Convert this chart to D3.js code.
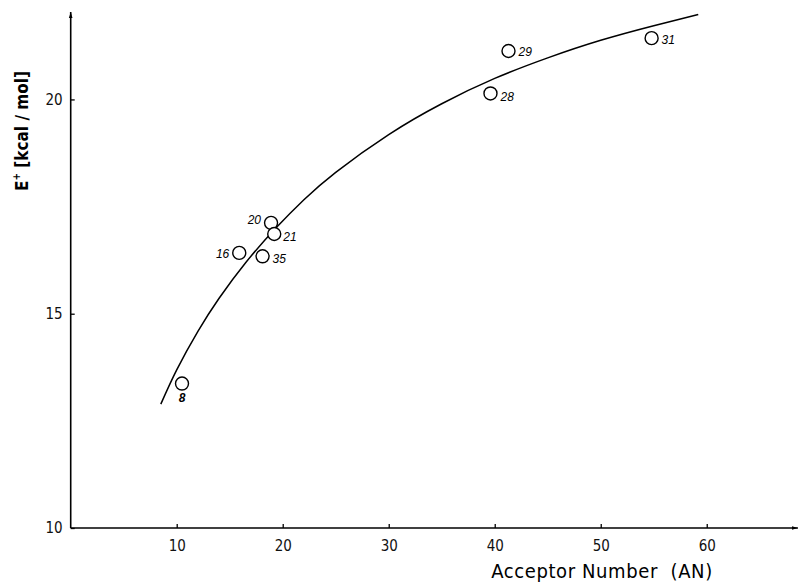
<!DOCTYPE html>
<html>
<head>
<meta charset="utf-8">
<script src="https://cdn.jsdelivr.net/npm/d3@7"></script>
<style>
  body { margin: 0; background: #fff; }
  svg { display: block; }
</style>
</head>
<body>
<div id="chart"></div>
<script>
// measured points (acceptor number vs activation energy)
const ids = ["8", "16", "20", "21", "35", "28", "29", "31"];
const an  = [10.5, 15.9, 18.9, 19.2, 18.1, 39.6, 41.3, 54.8];
const ea  = [13.37, 16.42, 17.12, 16.86, 16.34, 20.14, 21.13, 21.43];

// drawn curve
const curveAN = [8.5, 10, 12, 14, 16.5, 19.4, 22, 25, 30, 35, 40, 45, 50, 55, 59.2];
const curveE  = [12.89, 13.69, 14.59, 15.36, 16.19, 17.01, 17.66, 18.3, 19.18, 19.9, 20.49, 20.97, 21.38, 21.72, 21.98];

const xTicks = [10, 20, 30, 40, 50, 60];
const yTicks = [10, 15, 20];

const width = 801, height = 584;

const svg = d3.select("#chart")
    .append("svg")
    .attr("width", width)
    .attr("height", height);

const x = d3.scaleLinear()
    .domain([0, 68.6])
    .range([70.7, 797.9]);

const y = d3.scaleLinear()
    .domain([10, 22.04])
    .range([528, 12]);

svg.append("defs").append("marker")
    .attr("id", "arrow")
    .attr("viewBox", "0 0 10 10")
    .attr("refX", 10).attr("refY", 5)
    .attr("markerWidth", 6).attr("markerHeight", 6)
    .attr("markerUnits", "userSpaceOnUse")
    .attr("orient", "auto")
    .append("path")
    .attr("d", "M0,2 L10,5 L0,8 Z")
    .attr("fill", "#000");

// axes
const xAxis = g => g
    .attr("transform", `translate(0,${y(10)})`)
    .call(d3.axisBottom(x).tickValues(xTicks).tickSizeInner(-4).tickSizeOuter(0).tickPadding(12))
    .call(g => g.select(".domain").remove());

const yAxis = g => g
    .attr("transform", `translate(${x(0)},0)`)
    .call(d3.axisLeft(y).tickValues(yTicks).tickSizeInner(-4).tickSizeOuter(0).tickPadding(8))
    .call(g => g.select(".domain").remove());

svg.append("g").call(xAxis);
svg.append("g").call(yAxis);

svg.selectAll(".tick text")
    .attr("font-family", "'DejaVu Sans Condensed', 'DejaVu Sans', sans-serif")
    .attr("font-size", 15)
    .attr("fill", "#111");
svg.selectAll(".tick line").attr("stroke", "#000").attr("stroke-width", 1.3);

svg.append("line")
    .attr("x1", x(0)).attr("y1", y(10))
    .attr("x2", x(68.6)).attr("y2", y(10))
    .attr("stroke", "#000").attr("stroke-width", 1.6)
    .attr("marker-end", "url(#arrow)");

svg.append("line")
    .attr("x1", x(0)).attr("y1", y(10))
    .attr("x2", x(0)).attr("y2", y(22.04))
    .attr("stroke", "#000").attr("stroke-width", 1.6)
    .attr("marker-end", "url(#arrow)");

// axis titles
svg.append("text")
    .attr("x", 602).attr("y", 578)
    .attr("text-anchor", "middle")
    .attr("font-family", "'DejaVu Sans Condensed', 'DejaVu Sans', sans-serif")
    .attr("font-size", 20)
    .attr("letter-spacing", 0.6)
    .attr("xml:space", "preserve")
    .text("Acceptor Number  (AN)");

const yt = svg.append("text")
    .attr("transform", "translate(28,131) rotate(-90)")
    .attr("text-anchor", "middle")
    .attr("font-family", "'DejaVu Sans Condensed', 'DejaVu Sans', sans-serif")
    .attr("font-size", 17)
    .attr("font-weight", "bold");
yt.append("tspan").text("E");
yt.append("tspan").attr("font-size", 10).attr("dy", -8).text("+");
yt.append("tspan").attr("dy", 8).text(" [kcal / mol]");

// curve
const curve = curveAN.map((v, i) => [v, curveE[i]]);
svg.append("path")
    .datum(curve)
    .attr("fill", "none")
    .attr("stroke", "#000")
    .attr("stroke-width", 1.5)
    .attr("d", d3.line().x(d => x(d[0])).y(d => y(d[1])).curve(d3.curveNatural));

// points
const pts = ids.map((id, i) => ({id, an: an[i], e: ea[i]}));

svg.selectAll("circle")
    .data(pts)
    .join("circle")
    .attr("cx", d => x(d.an))
    .attr("cy", d => y(d.e))
    .attr("r", 6.5)
    .attr("fill", "#fff")
    .attr("stroke", "#000")
    .attr("stroke-width", 1.4);

// label placement around each circle
const place = {
    "8":  {dx: 0,   dy: 18, a: "middle"},
    "16": {dx: -10, dy: 5,  a: "end"},
    "20": {dx: -10, dy: 1,  a: "end"},
    "21": {dx: 9,   dy: 7,  a: "start"},
    "35": {dx: 10,  dy: 7,  a: "start"},
    "28": {dx: 10,  dy: 8,  a: "start"},
    "29": {dx: 10,  dy: 5,  a: "start"},
    "31": {dx: 10,  dy: 6,  a: "start"}
};

svg.selectAll(".lbl")
    .data(pts)
    .join("text")
    .attr("class", "lbl")
    .attr("x", d => x(d.an) + place[d.id].dx)
    .attr("y", d => y(d.e) + place[d.id].dy)
    .attr("text-anchor", d => place[d.id].a)
    .attr("font-family", "'Liberation Sans', sans-serif")
    .attr("font-style", "italic")
    .attr("font-weight", d => d.id === "8" ? "bold" : "normal")
    .attr("font-size", 12)
    .text(d => d.id);
</script>
</body>
</html>
